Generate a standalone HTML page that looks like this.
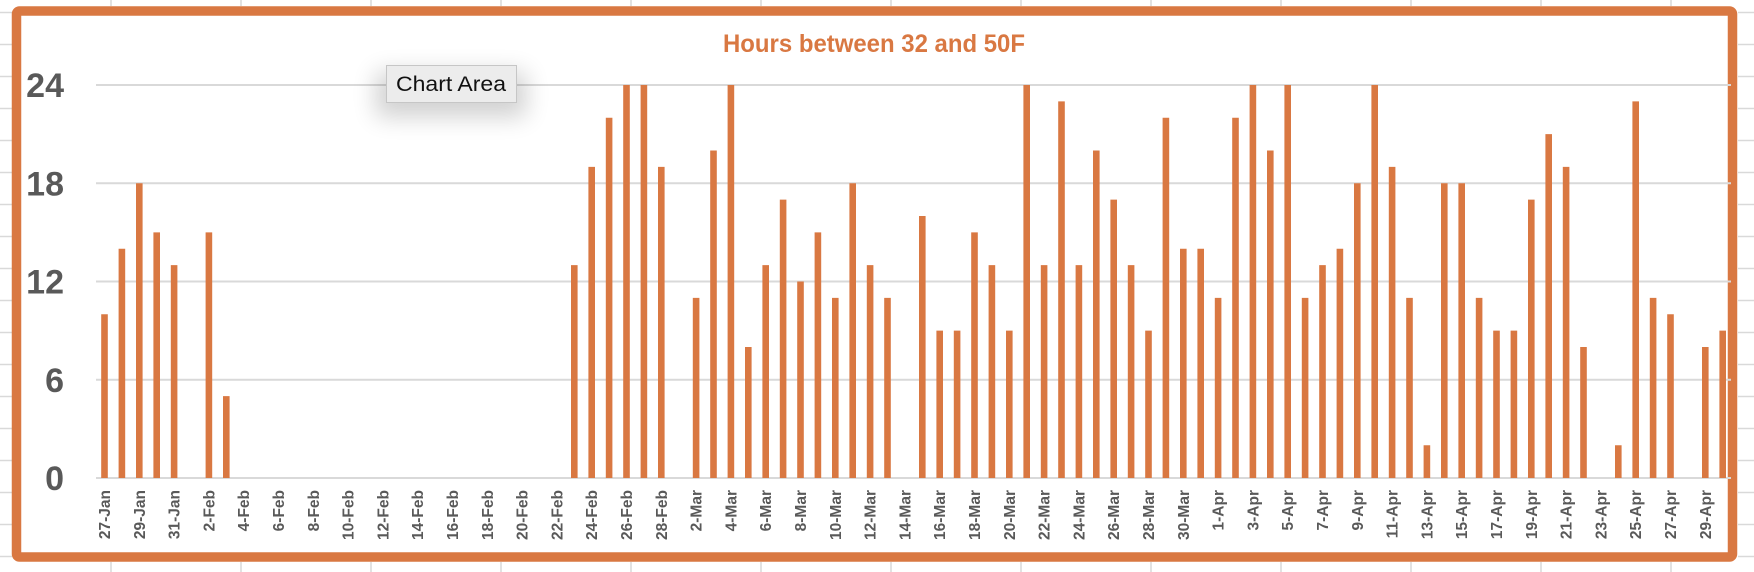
<!DOCTYPE html>
<html><head><meta charset="utf-8"><style>
html,body{margin:0;padding:0;background:#fff;}
svg{display:block;}
</style></head><body>
<svg id="s" width="1754" height="572" xmlns="http://www.w3.org/2000/svg" font-family="Liberation Sans, sans-serif">
<g id="bg" stroke="#d9d9d9" stroke-width="1.5"></g>
<rect x="16.5" y="11" width="1716" height="546" rx="3" fill="#fff" stroke="#D97842" stroke-width="9.5"/>
<g id="grid" stroke="#d9d9d9" stroke-width="2"></g>
<g id="bars" fill="#D97842"></g>
<g id="ylab" font-size="34" font-weight="bold" fill="#595959" text-anchor="end"></g>
<g id="xlab" font-size="15.5" font-weight="bold" fill="#595959" text-anchor="end"></g>
<text x="874" y="52" font-size="25" font-weight="bold" fill="#D97842" text-anchor="middle" textLength="302" lengthAdjust="spacingAndGlyphs">Hours between 32 and 50F</text>
<defs><filter id="sh" x="-50%" y="-100%" width="200%" height="300%"><feGaussianBlur stdDeviation="12"/></filter></defs>
<rect x="376" y="72" width="150" height="45" fill="#000" opacity="0.18" filter="url(#sh)"/>
<rect x="386.5" y="65.5" width="130" height="37" fill="#ececec" stroke="#c6c6c6" stroke-width="1"/>
<text x="451" y="91" font-size="21" fill="#111" text-anchor="middle" textLength="110" lengthAdjust="spacingAndGlyphs">Chart Area</text>
</svg>
<script>
var NS="http://www.w3.org/2000/svg";
function el(p,t,a,txt){var e=document.createElementNS(NS,t);for(var k in a)e.setAttribute(k,a[k]);if(txt)e.textContent=txt;document.getElementById(p).appendChild(e);}
// background spreadsheet grid
for(var y=12.5;y<572;y+=32){el("bg","line",{x1:0,x2:12,y1:y,y2:y});el("bg","line",{x1:1738,x2:1754,y1:y,y2:y});}
for(var x=111;x<1754;x+=130){el("bg","line",{x1:x,x2:x,y1:0,y2:6});el("bg","line",{x1:x,x2:x,y1:562,y2:572});}
var y0=478,u=16.375;
[0,6,12,18,24].forEach(function(v){var y=y0-v*u;el("grid","line",{x1:96,x2:1731,y1:y,y2:y});el("ylab","text",{x:64,y:y+12},String(v));});
var d=[10,14,18,15,13,0,15,5,0,0,0,0,0,0,0,0,0,0,0,0,0,0,0,0,0,0,0,13,19,22,24,24,19,0,11,20,24,8,13,17,12,15,11,18,13,11,0,16,9,9,15,13,9,24,13,23,13,20,17,13,9,22,14,14,11,22,24,20,24,11,13,14,18,24,19,11,2,18,18,11,9,9,17,21,19,8,0,2,23,11,10,0,8,9];
var step=17.4,x0=104.5;
var mon=[["Jan",27,31],["Feb",1,28],["Mar",1,31],["Apr",1,30]];var labels=[];
mon.forEach(function(m){for(var i=m[1];i<=m[2];i++)labels.push(i+"-"+m[0]);});
for(var i=0;i<d.length;i++){var cx=x0+i*step;
 if(d[i]>0)el("bars","rect",{x:cx-3.3,y:y0-d[i]*u,width:6.6,height:d[i]*u});
 if(i%2==0)el("xlab","text",{x:0,y:0,transform:"translate("+(cx+5.5)+",490) rotate(-90)"},labels[i]);}
</script>
</body></html>
